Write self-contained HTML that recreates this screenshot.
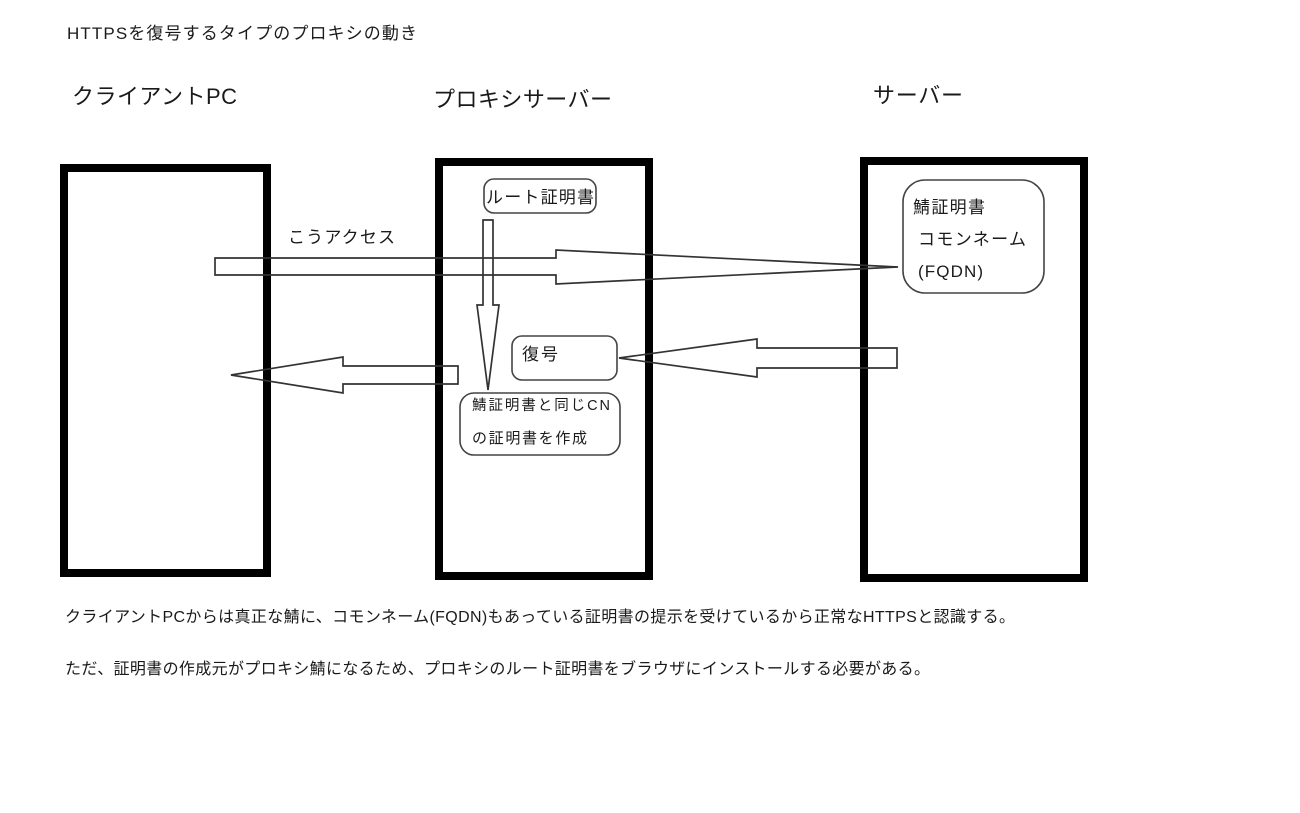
<!DOCTYPE html>
<html>
<head>
<meta charset="utf-8">
<style>
  html, body { margin: 0; padding: 0; background: #ffffff; }
  body { width: 1300px; height: 813px; overflow: hidden; }
  svg { display: block; }
  text { font-family: "Liberation Sans", "Noto Sans CJK JP", sans-serif; fill: #1a1a1a; }
</style>
</head>
<body>
<svg width="1300" height="813" viewBox="0 0 1300 813" xmlns="http://www.w3.org/2000/svg">
  <rect x="0" y="0" width="1300" height="813" fill="#ffffff"/>

  <!-- Title -->
  <text x="67" y="39" font-size="17" textLength="350" lengthAdjust="spacing">HTTPSを復号するタイプのプロキシの動き</text>

  <!-- Column headers -->
  <text x="72" y="104" font-size="22" textLength="165" lengthAdjust="spacing">クライアントPC</text>
  <text x="433" y="107" font-size="22" textLength="179" lengthAdjust="spacing">プロキシサーバー</text>
  <text x="873" y="103" font-size="22" textLength="90" lengthAdjust="spacing">サーバー</text>

  <!-- Main boxes -->
  <rect x="64" y="168" width="203" height="405" fill="none" stroke="#000" stroke-width="8"/>
  <rect x="439" y="162" width="210" height="414" fill="none" stroke="#000" stroke-width="8"/>
  <rect x="864" y="161" width="220" height="417" fill="none" stroke="#000" stroke-width="8"/>

  <!-- Rounded boxes -->
  <rect x="484" y="179" width="112" height="34" rx="10" ry="10" fill="none" stroke="#444" stroke-width="1.6"/>
  <rect x="903" y="180" width="141" height="113" rx="22" ry="22" fill="none" stroke="#444" stroke-width="1.6"/>
  <rect x="512" y="336" width="105" height="44" rx="10" ry="10" fill="none" stroke="#444" stroke-width="1.6"/>
  <rect x="460" y="393" width="160" height="62" rx="14" ry="14" fill="none" stroke="#444" stroke-width="1.6"/>

  <!-- Arrows -->
  <polygon points="215,258 556,258 556,250 898,267 556,284 556,275 215,275"
           fill="none" stroke="#333" stroke-width="1.7" stroke-linejoin="miter"/>
  <polygon points="483,220 493,220 493,305 499,305 488,390 477,305 483,305"
           fill="none" stroke="#333" stroke-width="1.7"/>
  <polygon points="897,348 897,368 757,368 757,377 619,358 757,339 757,348"
           fill="none" stroke="#333" stroke-width="1.7"/>
  <polygon points="458,366 458,384 343,384 343,393 231,375 343,357 343,366"
           fill="none" stroke="#333" stroke-width="1.7"/>

  <!-- Labels -->
  <text x="288" y="243" font-size="17" textLength="107" lengthAdjust="spacing">こうアクセス</text>
  <text x="486" y="203" font-size="17" textLength="108" lengthAdjust="spacing">ルート証明書</text>

  <text x="913" y="213" font-size="17" textLength="72" lengthAdjust="spacing">鯖証明書</text>
  <text x="918" y="245" font-size="17" textLength="108" lengthAdjust="spacing">コモンネーム</text>
  <text x="918" y="277" font-size="17" textLength="65" lengthAdjust="spacing">(FQDN)</text>

  <text x="522" y="360" font-size="17" textLength="36" lengthAdjust="spacing">復号</text>

  <text x="472" y="410" font-size="14.5" textLength="138" lengthAdjust="spacing">鯖証明書と同じCN</text>
  <text x="472" y="443" font-size="15" textLength="115" lengthAdjust="spacing">の証明書を作成</text>

  <!-- Bottom text -->
  <text x="65" y="622" font-size="16" textLength="950" lengthAdjust="spacing">クライアントPCからは真正な鯖に、コモンネーム(FQDN)もあっている証明書の提示を受けているから正常なHTTPSと認識する。</text>
  <text x="65" y="674" font-size="16" textLength="865" lengthAdjust="spacing">ただ、証明書の作成元がプロキシ鯖になるため、プロキシのルート証明書をブラウザにインストールする必要がある。</text>
</svg>
</body>
</html>
